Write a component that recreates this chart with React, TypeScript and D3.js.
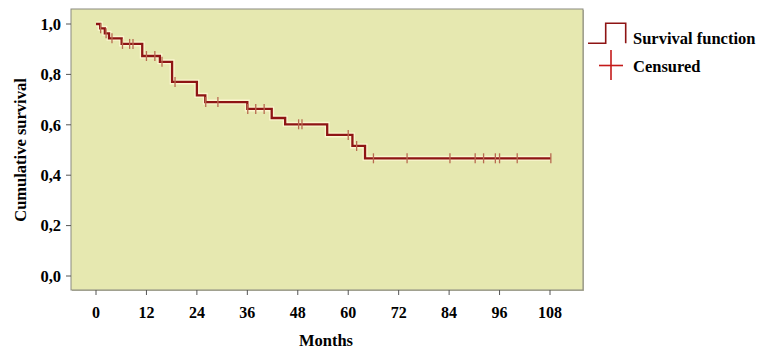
import React from "react";
import * as d3 from "d3";

const eventTimes = [0, 1, 2.1, 3.1, 6.1, 11, 15.2, 18.1, 24, 26, 36, 41.8, 45, 55, 61, 64];
const survival = [1, 0.983, 0.963, 0.943, 0.921, 0.873, 0.85, 0.77, 0.717, 0.69, 0.663, 0.627, 0.602, 0.56, 0.516, 0.467];
const endTime = 108.2;
const censorTimes = [1.1, 2.4, 3.8, 6.3, 8, 8.8, 12, 14, 15.7, 18.8, 26.1, 29, 36.1, 38, 40, 48.2, 49, 60, 62, 66, 74, 84.2, 90.2, 92.2, 95, 96, 100.2, 108.2];
const xTicks = [0, 12, 24, 36, 48, 60, 72, 84, 96, 108];
const yTicks = [0, 0.2, 0.4, 0.6, 0.8, 1.0];

const W = 765, H = 356;
const plot = { left: 71, top: 9, right: 583, bottom: 290 };

export default function App() {
  const x = d3.scaleLinear().domain([0, 108]).range([96, 550]);
  const y = d3.scaleLinear().domain([0, 1]).range([276, 24]);
  const pts: [number, number][] = eventTimes.map((t, i) => [t, survival[i]]);
  pts.push([endTime, survival[survival.length - 1]]);
  const line = d3.line<[number, number]>().x(d => x(d[0])).y(d => y(d[1])).curve(d3.curveStepAfter);
  const path = line(pts) || "";
  const sAt = (t: number) => {
    const i = d3.bisectRight(eventTimes, t) - 1;
    return survival[Math.max(0, i)];
  };
  const font = "'Liberation Serif', 'Times New Roman', serif";
  const dark = "#8e1414";
  return (
    <svg width={W} height={H} style={{ position: "absolute", left: 0, top: 0, background: "#fff" }} fontFamily={font}>
      <rect x={plot.left + 1} y={plot.top + 1} width={plot.right - plot.left} height={plot.bottom - plot.top} fill="#b8b8a0" />
      <rect x={plot.left} y={plot.top} width={plot.right - plot.left} height={plot.bottom - plot.top} fill="#e6e8b0" stroke="#8a8a80" strokeWidth={1} />
      {yTicks.map(v => (
        <g key={"y" + v}>
          <line x1={66} x2={plot.left} y1={y(v)} y2={y(v)} stroke="#555" strokeWidth={1} />
          <text x={61} y={y(v)} dy="0.35em" textAnchor="end" fontSize={16.5} fontWeight="bold">{d3.format(".1f")(v).replace(".", ",")}</text>
        </g>
      ))}
      {xTicks.map(v => (
        <g key={"x" + v}>
          <line x1={x(v)} x2={x(v)} y1={plot.bottom} y2={plot.bottom + 5} stroke="#555" strokeWidth={1} />
          <text x={x(v)} y={312} dy="0.35em" textAnchor="middle" fontSize={16} fontWeight="bold">{v}</text>
        </g>
      ))}
      <text x={(plot.left + plot.right) / 2 - 1} y={340} dy="0.35em" textAnchor="middle" fontSize={16.5} fontWeight="bold">Months</text>
      <text transform={`translate(20,150) rotate(-90)`} textAnchor="middle" dy="0.35em" fontSize={16.5} fontWeight="bold">Cumulative survival</text>
      <path d={path} fill="none" stroke="#fbf6cf" strokeWidth={5} />
      <path d={path} fill="none" stroke={dark} strokeWidth={2.3} />
      {censorTimes.map((t, i) => (
        <line key={"c" + i} x1={x(t)} x2={x(t)} y1={y(sAt(t)) - 5} y2={y(sAt(t)) + 5} stroke="#b86a50" strokeWidth={1.3} />
      ))}
      <path d="M588,43.3 H605.7 V23.3 H625.7 V43.3" fill="none" stroke={dark} strokeWidth={1.6} />
      <text x={633} y={38} dy="0.35em" fontSize={16.5} fontWeight="bold">Survival function</text>
      <line x1={599} x2={623} y1={65.5} y2={65.5} stroke="#c41a1a" strokeWidth={1.6} />
      <line x1={611} x2={611} y1={50} y2={80} stroke="#c41a1a" strokeWidth={1.6} />
      <text x={633} y={66} dy="0.35em" fontSize={16.5} fontWeight="bold">Censured</text>
    </svg>
  );
}
